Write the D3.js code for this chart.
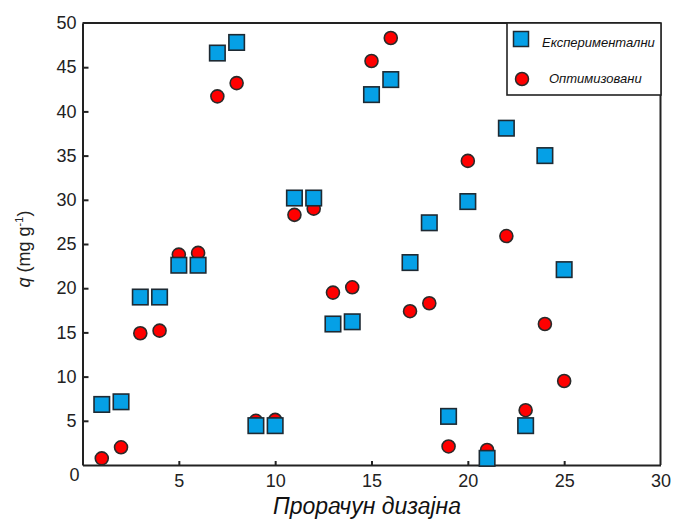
<!DOCTYPE html>
<html>
<head>
<meta charset="utf-8">
<script src="https://cdn.jsdelivr.net/npm/d3@7.9.0/dist/d3.min.js"></script>
<style>
  body { margin: 0; background: #fff; }
  svg { display: block; }
  .axis text { font-family: "Liberation Sans", Arial, sans-serif; font-size: 18px; fill: #222; }
  .axis path, .axis line { stroke: #222; stroke-width: 2px; }
</style>
</head>
<body>
<svg id="chart" width="675" height="524"></svg>
<script>
// design runs and measured / model values
const runs = [1, 2, 3, 4, 5, 6, 7, 8, 9, 10, 11, 12, 13, 14, 15, 16, 17, 18, 19, 20, 21, 22, 23, 24, 25];
const experimental = [6.85, 7.15, 19.0, 19.0, 22.6, 22.6, 46.6, 47.8, 4.45, 4.45, 30.2, 30.2, 15.95, 16.2, 41.9, 43.6,
  22.9, 27.4, 5.5, 29.8, 0.75, 38.1, 4.45, 35.0, 22.1];
const optimized = [0.75, 2.0, 14.9, 15.2, 23.8, 24.0, 41.7, 43.2, 5.0, 5.1, 28.3, 29.0, 19.5, 20.1, 45.7, 48.3,
  17.4, 18.3, 2.1, 34.4, 1.7, 25.9, 6.2, 15.95, 9.5];
const xTicks = [5, 10, 15, 20, 25, 30];
const yTicks = [0, 5, 10, 15, 20, 25, 30, 35, 40, 45, 50];
const seriesNames = ["Експериментални", "Оптимизовани"];

const svg = d3.select("#chart");
const x = d3.scaleLinear().domain([0, 30]).range([82.5, 660.5]);
const y = d3.scaleLinear().domain([0, 50]).range([465, 23]);

// axes (ticks point inward)
const yAxis = svg.append("g")
  .attr("class", "axis")
  .attr("transform", `translate(${x(0)},0)`)
  .call(d3.axisLeft(y).tickValues(yTicks).tickSize(-6).tickPadding(6).tickSizeOuter(0));
yAxis.selectAll(".tick").filter(d => d === 0 || d === 50).select("line").remove();
yAxis.selectAll(".tick").filter(d => d === 0).select("text").attr("dy", "0.85em").attr("x", -3);

const xAxis = svg.append("g")
  .attr("class", "axis")
  .attr("transform", `translate(0,${y(0)})`)
  .call(d3.axisBottom(x).tickValues(xTicks).tickSize(-4).tickPadding(9).tickSizeOuter(0));
xAxis.selectAll(".tick").filter(d => d === 30).select("line").remove();

// top and right frame
svg.append("line").attr("x1", x(0)).attr("x2", x(30)).attr("y1", y(50)).attr("y2", y(50))
  .attr("stroke", "#222").attr("stroke-width", 2.2);
svg.append("line").attr("x1", x(30)).attr("x2", x(30)).attr("y1", y(50)).attr("y2", y(0))
  .attr("stroke", "#222").attr("stroke-width", 2);

// optimized (circles) drawn first, squares on top
svg.append("g").selectAll("circle")
  .data(runs.map((r, i) => ({ run: r, v: optimized[i] })))
  .join("circle")
  .attr("cx", d => x(d.run))
  .attr("cy", d => y(d.v))
  .attr("r", 6.5)
  .attr("fill", "#ff0000")
  .attr("stroke", "#2a2a2a")
  .attr("stroke-width", 1.6);

const sq = 15.5;
svg.append("g").selectAll("rect")
  .data(runs.map((r, i) => ({ run: r, v: experimental[i] })))
  .join("rect")
  .attr("x", d => x(d.run) - sq / 2)
  .attr("y", d => y(d.v) - sq / 2)
  .attr("width", sq)
  .attr("height", sq)
  .attr("fill", "#05a0e6")
  .attr("stroke", "#1e2a33")
  .attr("stroke-width", 1.6);

// axis titles
svg.append("text")
  .attr("x", 367).attr("y", 514)
  .attr("text-anchor", "middle")
  .style("font-family", "'Liberation Sans', Arial, sans-serif")
  .style("font-style", "italic")
  .style("font-size", "23px")
  .attr("fill", "#111")
  .text("Прорачун дизајна");

const yt = svg.append("text")
  .attr("transform", "translate(30,249) rotate(-90)")
  .attr("text-anchor", "middle")
  .style("font-family", "'Liberation Sans', Arial, sans-serif")
  .style("font-size", "18px")
  .attr("fill", "#222");
yt.append("tspan").style("font-style", "italic").text("q");
yt.append("tspan").text(" (mg g");
yt.append("tspan").attr("dy", -7).style("font-size", "11px").text("-1");
yt.append("tspan").attr("dy", 7).text(")");

// legend
const lg = svg.append("g");
lg.append("rect")
  .attr("x", 507).attr("y", 23).attr("width", 154).attr("height", 72)
  .attr("fill", "#fff").attr("stroke", "#222").attr("stroke-width", 1.6);
lg.append("rect")
  .attr("x", 521 - 7.5).attr("y", 39 - 7.5).attr("width", 15).attr("height", 15)
  .attr("fill", "#05a0e6").attr("stroke", "#1e2a33").attr("stroke-width", 1.5);
lg.append("circle")
  .attr("cx", 522).attr("cy", 79).attr("r", 6.5)
  .attr("fill", "#ff0000").attr("stroke", "#2a2a2a").attr("stroke-width", 1.5);
lg.selectAll("text.lbl")
  .data(seriesNames)
  .join("text")
  .attr("class", "lbl")
  .attr("x", (d, i) => i === 0 ? 542 : 549)
  .attr("y", (d, i) => i === 0 ? 47 : 83)
  .style("font-family", "'Liberation Sans', Arial, sans-serif")
  .style("font-style", "italic")
  .style("font-size", "13px")
  .attr("fill", "#111")
  .text(d => d);
</script>
</body>
</html>
